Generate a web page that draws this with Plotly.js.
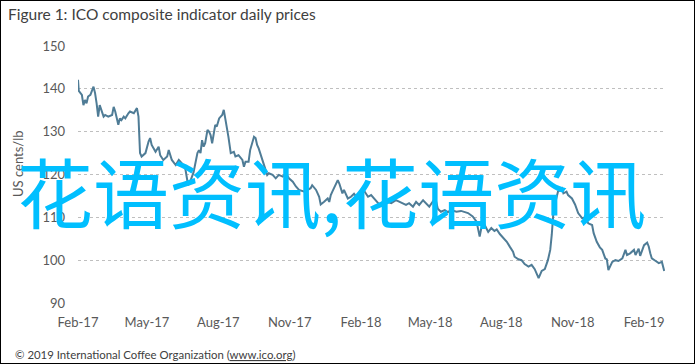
<!DOCTYPE html>
<html>
<head>
<meta charset="utf-8">
<script src="https://cdn.plot.ly/plotly-3.0.1.min.js"></script>
<style>
html,body{margin:0;padding:0;background:#fff;}
#wrap{position:relative;width:695px;height:364px;}
#chart{width:695px;height:364px;}
#frame{position:absolute;left:0;top:0;width:695px;height:364px;box-sizing:border-box;border:1px solid #000;pointer-events:none;}
</style>
</head>
<body>
<div id="wrap"><div id="chart"></div><div id="frame"></div></div>
<script>
const dates = [
"2017-02-01","2017-02-02","2017-02-06","2017-02-08","2017-02-10","2017-02-12","2017-02-14","2017-02-17","2017-02-21","2017-02-23",
"2017-02-25","2017-02-27","2017-03-01","2017-03-04","2017-03-06","2017-03-08","2017-03-12","2017-03-17","2017-03-19","2017-03-21",
"2017-03-25","2017-03-27","2017-03-29","2017-04-01","2017-04-03","2017-04-07","2017-04-09","2017-04-14","2017-04-16","2017-04-18",
"2017-04-20","2017-04-22","2017-04-24","2017-04-29","2017-05-03","2017-05-05","2017-05-07","2017-05-12","2017-05-16","2017-05-18",
"2017-05-22","2017-05-27","2017-05-29","2017-06-02","2017-06-07","2017-06-11","2017-06-15","2017-06-19","2017-06-23","2017-06-26",
"2017-06-30","2017-07-05","2017-07-07","2017-07-09","2017-07-11","2017-07-13","2017-07-15","2017-07-18","2017-07-20","2017-07-22",
"2017-07-24","2017-07-26","2017-07-28","2017-07-30","2017-08-02","2017-08-04","2017-08-06","2017-08-08","2017-08-10","2017-08-12",
"2017-08-14","2017-08-17","2017-08-21","2017-08-23","2017-08-27","2017-09-01","2017-09-03","2017-09-05","2017-09-09","2017-09-11",
"2017-09-16","2017-09-18","2017-09-20","2017-09-22","2017-09-24","2017-09-27","2017-10-01","2017-10-03","2017-10-05","2017-10-10",
"2017-10-14","2017-10-18","2017-10-23","2017-10-27","2017-10-31","2017-11-05","2017-11-09","2017-11-13","2017-11-20","2017-11-24",
"2017-11-28","2017-11-30","2017-12-05","2017-12-09","2017-12-11","2017-12-15","2017-12-18","2017-12-20","2017-12-22","2017-12-24",
"2017-12-26","2017-12-28","2017-12-31","2018-01-02","2018-01-04","2018-01-06","2018-01-08","2018-01-10","2018-01-12","2018-01-15",
"2018-01-19","2018-01-23","2018-01-27","2018-02-01","2018-02-05","2018-02-07","2018-02-10","2018-02-14","2018-02-16","2018-02-20",
"2018-02-25","2018-03-01","2018-03-05","2018-03-07","2018-03-12","2018-03-18","2018-03-22","2018-03-27","2018-03-31","2018-04-04",
"2018-04-09","2018-04-13","2018-04-17","2018-04-22","2018-04-26","2018-04-30","2018-05-05","2018-05-07","2018-05-09","2018-05-11",
"2018-05-15","2018-05-20","2018-05-24","2018-05-28","2018-06-04","2018-06-10","2018-06-19","2018-06-25","2018-06-30","2018-07-04",
"2018-07-06","2018-07-10","2018-07-15","2018-07-19","2018-07-23","2018-07-26","2018-07-30","2018-08-03","2018-08-08","2018-08-12",
"2018-08-16","2018-08-18","2018-08-23","2018-08-27","2018-08-31","2018-09-05","2018-09-09","2018-09-13","2018-09-18","2018-09-22",
"2018-09-26","2018-09-30","2018-10-03","2018-10-05","2018-10-07","2018-10-09","2018-10-13","2018-10-18","2018-10-20","2018-10-24",
"2018-10-26","2018-10-31","2018-11-04","2018-11-08","2018-11-13","2018-11-17","2018-11-21","2018-11-26","2018-11-28","2018-12-02",
"2018-12-06","2018-12-09","2018-12-13","2018-12-15","2018-12-17","2018-12-22","2018-12-26","2018-12-30","2019-01-04","2019-01-08",
"2019-01-10","2019-01-14","2019-01-19","2019-01-21","2019-01-25","2019-01-27","2019-02-01","2019-02-05","2019-02-07","2019-02-09",
"2019-02-11","2019-02-16","2019-02-20","2019-02-24","2019-02-27"
];
const prices = [
142.1,139.5,138.6,136.2,137.4,136.6,138.2,138.6,140.5,139.0,
136.6,133.5,136.2,134.3,133.5,133.9,133.5,133.9,135.8,134.7,
131.6,133.1,132.7,133.5,133.1,134.3,134.7,134.3,135.1,135.5,
133.5,125.0,124.2,125.0,127.7,128.5,126.9,125.3,126.5,124.5,
123.4,124.2,125.7,123.4,122.2,123.4,122.6,121.8,117.5,118.5,
120.5,125.0,125.7,125.0,128.0,126.5,127.3,130.4,130.0,129.2,
127.3,129.6,131.6,131.2,133.1,133.5,133.9,135.1,133.1,131.2,
128.8,125.0,125.3,124.2,124.5,123.4,121.8,123.0,123.0,125.7,
128.8,128.5,126.9,126.1,125.0,123.0,121.0,119.9,120.3,119.9,
119.1,119.9,119.5,120.3,119.1,118.3,117.2,116.4,116.0,116.4,
116.8,117.5,116.4,114.8,113.0,113.6,114.0,114.4,113.6,115.2,
116.0,116.8,117.9,118.7,117.9,116.8,115.6,116.4,115.6,114.4,
114.8,115.5,114.6,115.8,116.2,115.6,114.8,115.2,114.8,114.0,
112.9,113.6,114.4,113.6,113.3,114.0,113.6,113.3,112.9,113.3,
112.5,113.6,112.9,114.0,113.3,112.5,113.8,114.4,113.6,112.0,
111.3,111.7,111.2,111.7,111.3,111.5,111.0,110.2,109.0,105.5,
107.4,108.4,106.6,107.5,106.8,107.2,106.1,105.3,104.3,103.1,
102.0,100.8,100.2,100.0,99.1,98.5,98.9,97.9,95.8,97.5,
97.9,100.0,102.4,106.0,110.9,113.0,116.0,116.8,115.6,116.0,
115.2,114.4,113.0,111.0,109.8,110.0,108.6,108.2,106.3,104.3,
103.0,102.4,100.4,100.2,97.7,99.6,100.0,99.8,100.4,102.4,
101.2,101.6,102.4,101.2,102.7,101.0,103.5,104.1,103.2,101.6,
100.4,99.8,99.3,99.6,97.5
];
const tickDates = ["2017-02-01","2017-05-01","2017-08-01","2017-11-01","2018-02-01","2018-05-01","2018-08-01","2018-11-01","2019-02-01"];
const tickLabels = ["Feb-17","May-17","Aug-17","Nov-17","Feb-18","May-18","Aug-18","Nov-18","Feb-19"];
const yTicks = [90,100,110,120,130,140,150];

const FONT = "Lato, 'Open Sans', sans-serif";
const trace = {
  x: dates, y: prices, type: 'scatter', mode: 'lines',
  line: {color: '#4F7C96', width: 2}, hoverinfo: 'skip'
};
const layout = {
  width: 695, height: 364,
  margin: {l: 78, r: 30, t: 46, b: 61},
  paper_bgcolor: '#fff', plot_bgcolor: '#fff',
  showlegend: false,
  title: {text: 'Figure 1: ICO composite indicator daily prices', x: 8/695, xanchor: 'left', xref: 'container', y: 1 - 15/364, yanchor: 'middle', yref: 'container', font: {family: FONT, size: 15.5, color: '#404040'}},
  xaxis: {
    type: 'date', range: ['2017-02-01', '2019-02-28'],
    tickmode: 'array', tickvals: tickDates, ticktext: tickLabels,
    showgrid: false, zeroline: false, showline: false, ticks: '',
    tickfont: {family: FONT, size: 13, color: '#595959'}, ticklabelstandoff: 10
  },
  yaxis: {
    range: [90, 150], tickmode: 'array', tickvals: yTicks,
    showgrid: true, gridcolor: '#BFBFBF', griddash: 'dot', gridwidth: 1,
    zeroline: false, showline: false, ticks: '',
    tickfont: {family: FONT, size: 13, color: '#595959'}, ticklabelstandoff: 12
  },
  annotations: [
    {text: 'US cents/lb', xref: 'paper', yref: 'paper', x: (18-78)/587, y: (303-164)/257, textangle: -90, showarrow: false, xanchor: 'center', yanchor: 'middle', font: {family: FONT, size: 13, color: '#595959'}},
    {text: '© 2019 International Coffee Organization (<span style="text-decoration:underline">www.ico.org</span>)', xref: 'paper', yref: 'paper', x: (13-78)/587, y: (303-354)/257, xanchor: 'left', yanchor: 'middle', showarrow: false, font: {family: FONT, size: 11.4, color: '#404040'}},
    {text: '花语资讯,花语资讯', xref: 'paper', yref: 'paper', x: (331-78)/587, y: (303-190)/257, xanchor: 'center', yanchor: 'middle', showarrow: false, font: {family: "'Noto Sans CJK SC', sans-serif", size: 76, color: '#00BFFF'}}
  ]
};
Plotly.newPlot('chart', [trace], layout, {displayModeBar: false, staticPlot: true});
</script>
</body>
</html>
